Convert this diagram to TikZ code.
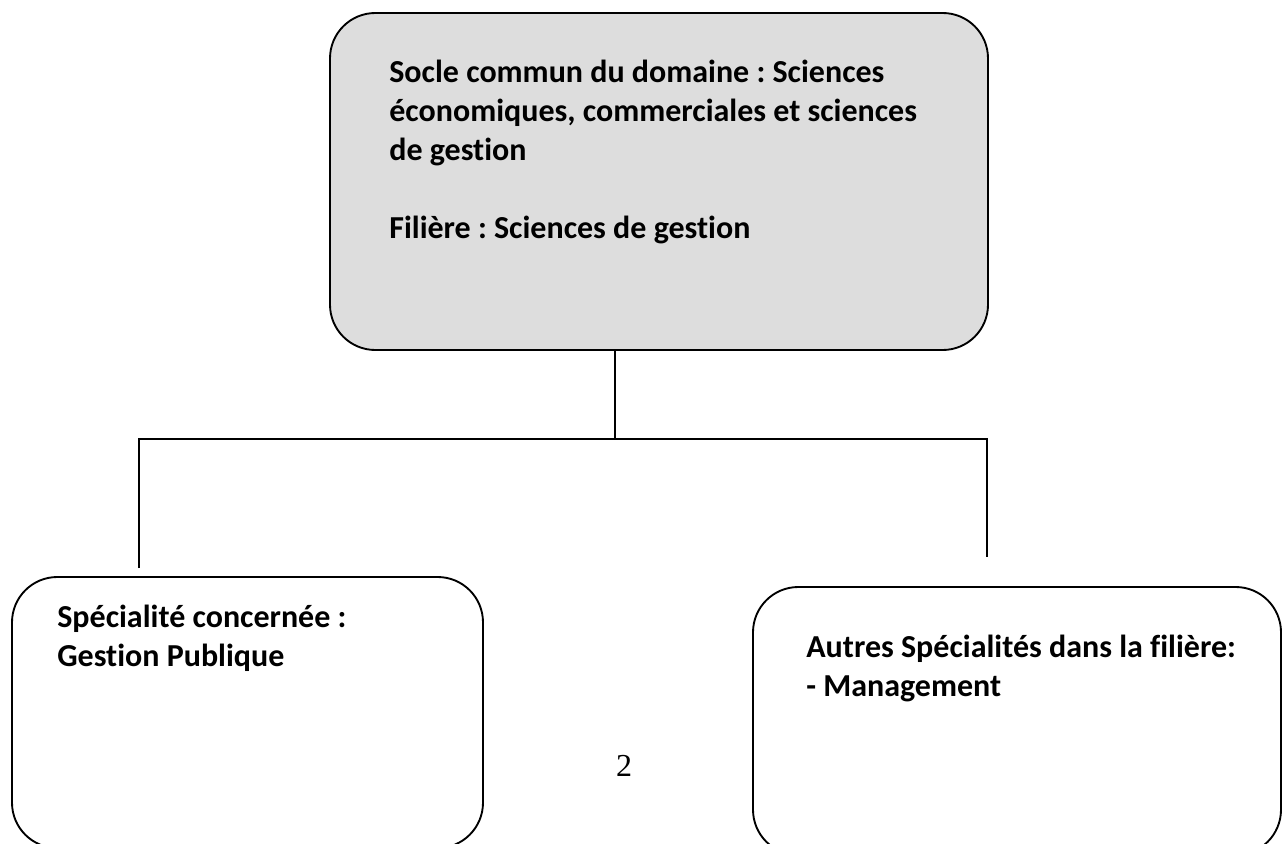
\documentclass[tikz,border=0pt]{standalone}
\usepackage{fontspec}
\setmainfont{Carlito}[Ligatures=NoCommon]
\newfontfamily\pagefont{Liberation Serif}
\usepackage{tikz}
\usetikzlibrary{shapes,arrows,positioning}
\definecolor{boxgray}{RGB}{221,221,221}
\frenchspacing

\begin{document}
\begin{tikzpicture}[x=0.75pt,y=-0.75pt,
	box/.style={draw,line width=1.4pt,rounded corners=34pt,shape=rectangle,inner sep=0pt},
	boxtext/.style={anchor=north west,inner sep=0pt,align=left,font=\fontsize{24}{29.25}\selectfont\bfseries}]
	\clip (0,0) rectangle (1285,843);
	\node[box,fill=boxgray,minimum width=493.5pt,minimum height=252.75pt] (1) at (659,181.5) {};
	\node[box,minimum width=353.25pt,minimum height=203.25pt] (2) at (247.5,712.5) {};
	\node[box,minimum width=396pt,minimum height=201pt] (3) at (1017,721) {};
	
	\node[boxtext,below right=36pt and 45pt of 1.north west] (1t) {Socle commun du domaine : Sciences\\économiques, commerciales et sciences\\de gestion\\[29.25pt]Filière : Sciences de gestion};
	\node[boxtext,below right=21.75pt and 34.5pt of 2.north west] (2t) {Spécialité concernée :\\Gestion Publique};
	\node[boxtext,below right=36.75pt and 40.5pt of 3.north west] (3t) {Autres Spécialités dans la filière:\\- Management};
	\node[font=\pagefont\fontsize{24}{28}\selectfont] (p) at (624,766) {2};
	
	\coordinate (c) at (615,439);
	\coordinate (jl) at (139,439);
	\coordinate (jr) at (987,439);
	\coordinate (el) at (139,568);
	\coordinate (er) at (987,557);
	\path [-,line width=1.4pt] (c |- 1.south) edge (c);
	\draw [-,line width=1.4pt] (el) -- (jl) -- (jr) -- (er);
\end{tikzpicture}
\end{document}
